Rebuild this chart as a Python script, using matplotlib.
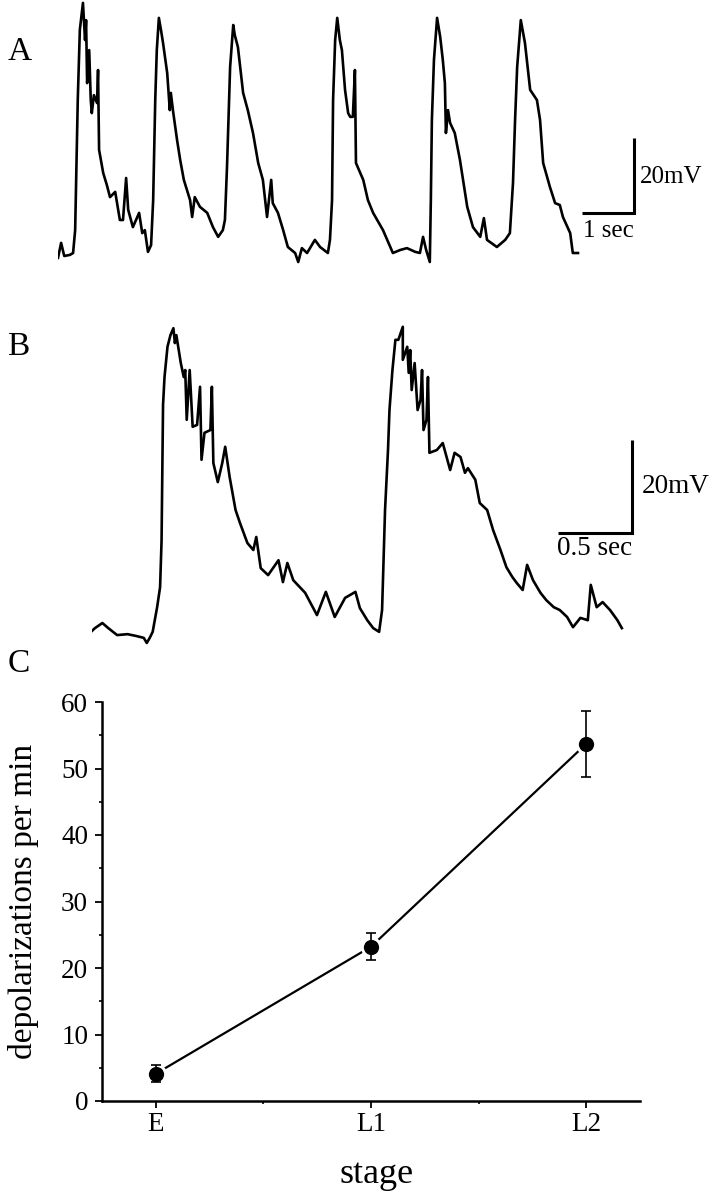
import matplotlib
matplotlib.use("Agg")
import matplotlib.pyplot as plt
from matplotlib.ticker import MultipleLocator, FixedLocator

plt.rcParams['font.family'] = ['Liberation Serif', 'DejaVu Serif']

# ---------------- data ----------------
# Panel A trace: time (s), membrane potential (mV, relative)
trace_a_t = [0.00, 0.06, 0.12, 0.23, 0.29, 0.33, 0.38, 0.42, 0.48, 0.52, 0.54, 0.56, 0.60, 0.63,
             0.65, 0.69, 0.75, 0.77, 0.79, 0.87, 0.94, 1.00, 1.10, 1.19, 1.25, 1.31, 1.35, 1.44,
             1.56, 1.62, 1.67, 1.73, 1.79, 1.83, 1.87, 1.90, 1.94, 1.98, 2.02, 2.10, 2.15, 2.17,
             2.21, 2.29, 2.35, 2.42, 2.48, 2.54, 2.58, 2.63, 2.73, 2.87, 2.98, 3.08, 3.17, 3.21,
             3.25, 3.31, 3.37, 3.40, 3.46, 3.56, 3.65, 3.75, 3.85, 3.94, 4.02, 4.10, 4.13, 4.23,
             4.33, 4.42, 4.56, 4.62, 4.69, 4.79, 4.94, 5.04, 5.19, 5.23, 5.27, 5.29, 5.33, 5.37,
             5.42, 5.46, 5.52, 5.58, 5.62, 5.67, 5.71, 5.73, 5.87, 5.96, 6.06, 6.25, 6.44, 6.58,
             6.71, 6.87, 6.96, 7.02, 7.08, 7.15, 7.17, 7.19, 7.23, 7.29, 7.35, 7.40, 7.44, 7.46,
             7.50, 7.54, 7.63, 7.73, 7.87, 7.98, 8.12, 8.19, 8.25, 8.44, 8.60, 8.69, 8.75, 8.79,
             8.83, 8.90, 8.98, 9.08, 9.21, 9.27, 9.33, 9.46, 9.56, 9.65, 9.71, 9.85, 9.90, 10.00]
trace_a_v = [1.1, 5.1, 1.6, 1.9, 2.4, 8.5, 43.2, 61.9, 69.1, 59.2, 64.5, 47.7, 56.5, 43.2,
             39.7, 44.5, 42.4, 51.2, 29.9, 23.7, 20.5, 17.3, 18.7, 11.2, 11.2, 22.4, 13.9, 9.3,
             13.1, 7.7, 8.5, 2.7, 4.5, 16.5, 43.2, 56.5, 65.1, 61.9, 58.4, 50.4, 40.5, 45.1,
             40.5, 32.5, 27.2, 21.9, 19.2, 16.5, 12.0, 17.3, 14.7, 13.1, 9.3, 6.7, 8.5, 11.2,
             25.3, 52.0, 63.2, 60.5, 57.3, 45.1, 40.5, 34.4, 26.4, 21.9, 12.0, 21.9, 15.7, 13.1,
             8.5, 4.0, 2.4, 0.0, 3.7, 2.4, 5.9, 4.0, 2.4, 5.9, 16.5, 43.2, 59.2, 65.1,
             59.2, 56.5, 45.9, 39.7, 38.7, 38.7, 51.2, 26.4, 21.9, 16.5, 13.1, 8.5, 2.4, 3.2,
             3.7, 2.7, 2.4, 6.7, 3.2, 0.0, 16.5, 37.9, 53.9, 65.1, 60.0, 53.9, 47.7, 34.4,
             40.5, 37.1, 34.4, 27.2, 14.7, 9.3, 6.7, 11.7, 5.9, 4.0, 5.9, 7.7, 21.1, 37.9,
             52.0, 64.5, 58.4, 45.9, 43.2, 37.9, 26.4, 20.0, 15.7, 15.2, 12.0, 7.7, 2.4, 2.4]

# Panel B trace: time (s), membrane potential (mV, relative)
trace_b_t = [0.00, 0.02, 0.07, 0.11, 0.17, 0.24, 0.30, 0.35, 0.37, 0.39, 0.41, 0.44, 0.46, 0.47,
             0.48, 0.49, 0.51, 0.53, 0.55, 0.56, 0.57, 0.60, 0.62, 0.63, 0.64, 0.66, 0.68, 0.71,
             0.73, 0.74, 0.76, 0.80, 0.81, 0.82, 0.85, 0.88, 0.90, 0.93, 0.97, 1.00, 1.05, 1.09,
             1.11, 1.14, 1.19, 1.26, 1.29, 1.32, 1.36, 1.44, 1.52, 1.58, 1.64, 1.71, 1.78, 1.81,
             1.86, 1.90, 1.94, 1.96, 1.97, 1.98, 2.00, 2.01, 2.03, 2.05, 2.07, 2.10, 2.10, 2.13,
             2.14, 2.15, 2.16, 2.18, 2.20, 2.22, 2.23, 2.24, 2.26, 2.27, 2.28, 2.33, 2.37, 2.42,
             2.45, 2.49, 2.52, 2.54, 2.59, 2.62, 2.67, 2.71, 2.76, 2.80, 2.84, 2.87, 2.91, 2.94,
             2.98, 3.03, 3.07, 3.12, 3.16, 3.21, 3.25, 3.30, 3.35, 3.37, 3.41, 3.45, 3.50, 3.55,
             3.58]
trace_b_v = [2.6, 3.2, 4.3, 3.2, 1.7, 1.9, 1.5, 1.1, 0.0, 1.1, 2.4, 7.7, 12.0, 22.0,
             51.2, 57.2, 63.7, 66.2, 67.7, 64.5, 66.2, 60.2, 57.2, 58.7, 48.0, 58.7, 46.5, 46.9,
             55.1, 39.4, 45.2, 45.8, 55.1, 38.7, 34.6, 38.7, 42.2, 35.7, 28.6, 25.8, 21.5, 20.0,
             22.8, 16.1, 14.6, 17.8, 13.1, 17.2, 13.5, 10.8, 6.0, 11.0, 5.6, 9.7, 11.0, 7.5,
             4.9, 3.2, 2.4, 7.1, 17.8, 28.6, 41.5, 50.1, 58.7, 65.2, 65.2, 68.0, 60.9, 63.7,
             58.1, 63.0, 54.4, 60.2, 50.1, 52.3, 58.7, 45.8, 48.0, 57.2, 40.9, 41.5, 43.0, 37.2,
             40.9, 40.0, 36.6, 37.6, 35.1, 30.1, 28.6, 24.3, 20.0, 16.3, 14.2, 12.9, 11.4, 16.8,
             13.5, 10.8, 9.2, 7.7, 7.1, 5.6, 3.4, 5.4, 4.9, 12.5, 7.7, 8.8, 7.1, 4.9,
             3.2]

# Panel C: depolarizations per min by stage
stages = ['E', 'L1', 'L2']
depol_mean = [4.1, 23.2, 53.7]
depol_err = [1.3, 2.0, 5.0]

# ---------------- figure ----------------
W, H = 714, 1199
fig = plt.figure(figsize=(W / 100, H / 100), dpi=100)

def px_axes(x0, y0, x1, y1):
    return fig.add_axes([x0 / W, 1 - y1 / H, (x1 - x0) / W, (y1 - y0) / H])

trace_lw = 1.9
bar_lw = 2.2

# Panel A
axA = px_axes(58, 0, 712, 270)
axA.plot(trace_a_t, trace_a_v, color='black', lw=trace_lw, solid_joinstyle='round')
axA.set_xlim(0, (712 - 58) / 52)
axA.set_ylim((262 - 270) / 3.75, 262 / 3.75)
axA.axis('off')
sbx, sby = 10.08, 13.07
axA.plot([sbx, sbx + 1, sbx + 1], [sby, sby, sby + 20], color='black', lw=bar_lw,
         solid_joinstyle='miter', solid_capstyle='butt')
axA.text(sbx + 1.11, sby + 9.6, '20mV', fontsize=18, va='center', ha='left')
axA.text(sbx + 0.01, sby - 4.7, '1 sec', fontsize=18, va='center', ha='left')

# Panel B
axB = px_axes(92, 310, 712, 650)
axB.plot(trace_b_t, trace_b_v, color='black', lw=trace_lw, solid_joinstyle='round')
axB.set_xlim(0, (712 - 92) / 148)
axB.set_ylim((643 - 650) / 4.65, (643 - 310) / 4.65)
axB.axis('off')
sbx, sby = 3.149, 23.66
axB.plot([sbx, sbx + 0.5, sbx + 0.5], [sby, sby, sby + 20], color='black', lw=bar_lw,
         solid_joinstyle='miter', solid_capstyle='butt')
axB.text(sbx + 0.567, sby + 9.9, '20mV', fontsize=19.5, va='center', ha='left')
axB.text(sbx - 0.01, sby - 3.3, '0.5 sec', fontsize=19.5, va='center', ha='left')

# Panel C
axC = px_axes(102, 702, 640, 1101)
xpos = list(range(len(stages)))
axC.plot(xpos, depol_mean, color='black', lw=1.6, zorder=2)
axC.plot(xpos, depol_mean, linestyle='none', marker='o', ms=13.1, mfc='black',
         mec='white', mew=2.1, zorder=3)
axC.errorbar(xpos, depol_mean, yerr=depol_err, fmt='none', ecolor='black',
             elinewidth=1.2, capsize=3.3, capthick=1.2, zorder=4)
axC.set_xlim(-0.25, 2.25)
axC.set_ylim(0, 60)
axC.set_xticks(xpos)
axC.set_xticklabels(stages)
axC.xaxis.set_minor_locator(FixedLocator([0.5, 1.5]))
axC.yaxis.set_major_locator(MultipleLocator(10))
axC.yaxis.set_minor_locator(MultipleLocator(5))
for s in ['top', 'right']:
    axC.spines[s].set_visible(False)
for s in ['left', 'bottom']:
    axC.spines[s].set_linewidth(1.8)
axC.tick_params(which='major', direction='out', length=5, width=1.3, labelsize=19.5)
axC.tick_params(axis='y', which='major', pad=5)
axC.tick_params(axis='x', which='major', pad=3)
axC.tick_params(which='minor', direction='out', length=2.5, width=1.2)
axC.set_ylabel('depolarizations per min', fontsize=24)
axC.yaxis.set_label_coords(-0.117, 0.5)
axC.set_xlabel('stage', fontsize=26)
axC.xaxis.set_label_coords(0.51, -0.185)
axC.xaxis.label.set_va('center')

# Panel letters
fig.text(20 / W, 1 - 52 / H, 'A', fontsize=24, ha='center', va='center')
fig.text(18 / W, 1 - 347 / H, 'B', fontsize=24, ha='center', va='center')
fig.text(19 / W, 1 - 664 / H, 'C', fontsize=24, ha='center', va='center')

fig.savefig('out.png', dpi=100)
